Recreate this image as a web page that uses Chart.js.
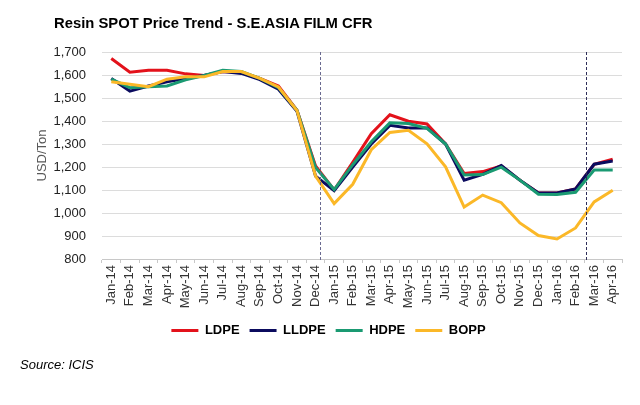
<!DOCTYPE html>
<html>
<head>
<meta charset="utf-8">
<script src="https://cdn.jsdelivr.net/npm/chart.js@4/dist/chart.umd.min.js"></script>
<style>
  body { margin: 0; background: #fff; }
  #wrap { position: relative; width: 640px; height: 405px; font-family: Arial, "Liberation Sans", sans-serif; }
  #title { position: absolute; left: 54px; top: 15px; font-size: 14.8px; line-height: 17px; font-weight: bold; color: #000; }
  #source { position: absolute; left: 20px; top: 357px; font-size: 13px; line-height: 16px; font-style: italic; color: #000; }
  canvas { position: absolute; left: 0; top: 0; }
</style>
</head>
<body>
<div id="wrap">
  <canvas id="resinChart" width="640" height="405"></canvas>
  <div id="title">Resin SPOT Price Trend - S.E.ASIA FILM CFR</div>
  <div id="source">Source: ICIS</div>
</div>
<script>
const months = ["Jan-14", "Feb-14", "Mar-14", "Apr-14", "May-14", "Jun-14", "Jul-14", "Aug-14", "Sep-14", "Oct-14", "Nov-14", "Dec-14",
  "Jan-15", "Feb-15", "Mar-15", "Apr-15", "May-15", "Jun-15", "Jul-15", "Aug-15", "Sep-15", "Oct-15", "Nov-15", "Dec-15",
  "Jan-16", "Feb-16", "Mar-16", "Apr-16"];

const ldpe  = [1672, 1612, 1621, 1621, 1605, 1598, 1615, 1612, 1585, 1552, 1447, 1205, 1100, 1220, 1345, 1427, 1399, 1387, 1300, 1172, 1180, 1205, 1143, 1087, 1087, 1105, 1212, 1234];
const lldpe = [1585, 1530, 1552, 1570, 1585, 1598, 1615, 1607, 1580, 1538, 1442, 1160, 1097, 1200, 1300, 1381, 1370, 1370, 1300, 1143, 1168, 1206, 1143, 1087, 1087, 1105, 1212, 1226];
const hdpe  = [1582, 1545, 1549, 1552, 1579, 1598, 1621, 1615, 1585, 1545, 1447, 1198, 1102, 1210, 1310, 1392, 1389, 1368, 1300, 1165, 1167, 1199, 1143, 1082, 1080, 1090, 1187, 1187];
const bopp  = [1571, 1560, 1549, 1582, 1592, 1592, 1615, 1615, 1585, 1548, 1445, 1160, 1041, 1125, 1275, 1350, 1360, 1301, 1201, 1026, 1078, 1045, 957, 902, 887, 935, 1048, 1099];

const yMin = 800;
const yMax = 1700;
const yStep = 100;

// dashed marker lines, in category units
const markers = [11.26, 25.55];

Chart.defaults.font.family = 'Arial, "Liberation Sans", sans-serif';

const markerLines = {
  id: "markerLines",
  afterDatasetsDraw(chart) {
    const ctx = chart.ctx;
    const x = chart.scales.x;
    const area = chart.chartArea;
    ctx.save();
    ctx.lineWidth = 1;
    ctx.setLineDash([3, 2]);
    markers.forEach((m, i) => {
      const px = Math.round(x.getPixelForValue(m)) + 0.5;
      ctx.strokeStyle = i === 0 ? "#6a6a90" : "#2e2e58";
      ctx.beginPath();
      ctx.moveTo(px, area.top);
      ctx.lineTo(px, area.bottom + 2);
      ctx.stroke();
    });
    ctx.restore();
  }
};

function series(label, data, color, order) {
  return {
    label: label,
    data: data,
    borderColor: color,
    backgroundColor: color,
    borderWidth: 3,
    pointRadius: 0,
    tension: 0,
    order: order
  };
}

const ctx = document.getElementById("resinChart").getContext("2d");
const chart = new Chart(ctx, {
  type: "line",
  data: {
    labels: months,
    datasets: [
      series("LDPE", ldpe, "#e3121b", 3),
      series("LLDPE", lldpe, "#0b0b5e", 2),
      series("HDPE", hdpe, "#1a9a72", 1),
      series("BOPP", bopp, "#fbb828", 0)
    ]
  },
  options: {
    responsive: false,
    animation: false,
    layout: { padding: { left: 35, right: 18, top: 52, bottom: 58 } },
    plugins: {
      tooltip: { enabled: false },
      legend: {
        position: "bottom",
        labels: {
          boxWidth: 27,
          boxHeight: 3,
          padding: 10,
          color: "#000",
          font: { size: 13, weight: "bold" },
          sort: (a, b) => a.datasetIndex - b.datasetIndex,
          generateLabels(chart) {
            const items = Chart.defaults.plugins.legend.labels.generateLabels(chart);
            items.forEach(it => { it.lineWidth = 0; it.fillStyle = it.strokeStyle; });
            return items;
          }
        }
      }
    },
    scales: {
      x: {
        offset: true,
        grid: { display: true, drawOnChartArea: false, drawTicks: true, tickLength: 4, color: "#c8c8c8", offset: true },
        border: { display: true, color: "#c8c8c8" },
        ticks: { autoSkip: false, minRotation: 90, maxRotation: 90, padding: 2, color: "#333", font: { size: 13 } },
        afterFit(scale) { scale.height = 55; }
      },
      y: {
        min: yMin,
        max: yMax,
        border: { display: false },
        grid: { color: "#dcdcdc", drawTicks: false },
        ticks: {
          stepSize: yStep,
          padding: 16,
          color: "#222",
          font: { size: 13 },
          callback: v => v.toLocaleString("en-US")
        },
        title: { display: true, text: "USD/Ton", color: "#595959", font: { size: 13 }, padding: 0 },
        afterFit(scale) { scale.width = 67; }
      }
    }
  },
  plugins: [markerLines]
});
</script>
</body>
</html>
